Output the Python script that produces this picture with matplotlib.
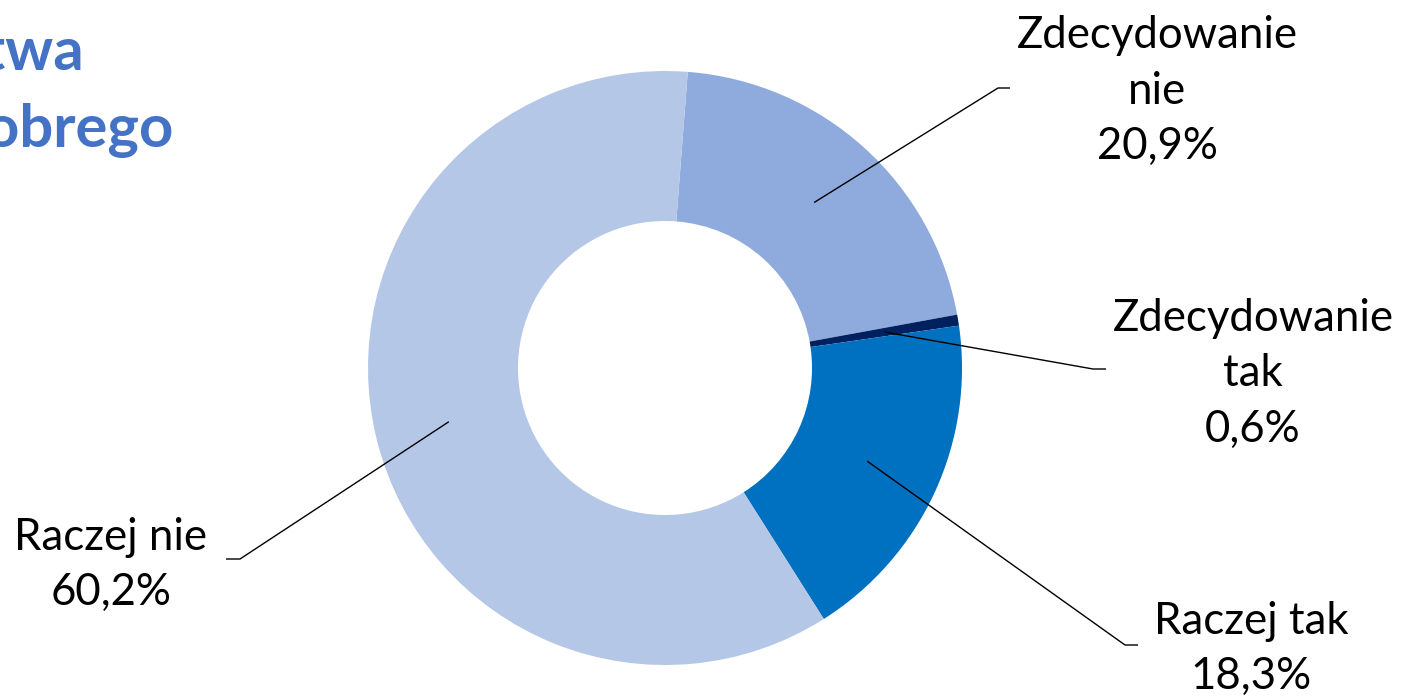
import numpy as np
import matplotlib
matplotlib.use("Agg")
import matplotlib.pyplot as plt

categories = ["Zdecydowanie\nnie", "Zdecydowanie\ntak", "Raczej tak", "Raczej nie"]
values = [20.9, 0.6, 18.3, 60.2]
value_labels = ["20,9%", "0,6%", "18,3%", "60,2%"]
colors = ["#8FAADC", "#002060", "#0070C0", "#B4C7E7"]
title_fragments = ["twa", "obrego"]

W, H = 1402, 697
fig = plt.figure(figsize=(W / 100, H / 100), dpi=100)
ax = fig.add_axes([0, 0, 1, 1])

cx, cy, R = 665, H - 368, 297
start = 85.6
wedges, _ = ax.pie(values, colors=colors, startangle=start, counterclock=False,
                   radius=R, center=(cx, cy), frame=True,
                   wedgeprops=dict(width=R * 0.505, linewidth=0))
ax.set_xlim(0, W)
ax.set_ylim(0, H)
ax.axis("off")

font = "Lato"
fs = 31.5

# label block centers (image px), leader elbow (image px) and end of short horizontal
label_pos = [(1157, 91), (1253, 374), (1251, 649), (111, 565)]
elbows = [(998, 88, 1010), (1093, 369, 1106), (1125, 645, 1138), (240, 559, 226)]

for w, cat, vl, (tx, ty), (ex, ey, hx) in zip(wedges, categories, value_labels, label_pos, elbows):
    mid = np.deg2rad((w.theta1 + w.theta2) / 2)
    ax_r = 0.75 * R
    px, py = cx + ax_r * np.cos(mid), cy + ax_r * np.sin(mid)
    ax.plot([px, ex, hx], [py, H - ey, H - ey], color="black", lw=1.0, solid_capstyle="butt")
    ax.text(tx, H - ty, cat + "\n" + vl, ha="center", va="center", fontsize=fs,
            family=font, color="black", linespacing=1.45)

ax.text(84, H - 70, title_fragments[0], ha="right", va="baseline", fontsize=43,
        family=font, weight="bold", color="#4472C4")
ax.text(173, H - 147, title_fragments[1], ha="right", va="baseline", fontsize=43,
        family=font, weight="bold", color="#4472C4")

fig.savefig("out.png", dpi=100)
